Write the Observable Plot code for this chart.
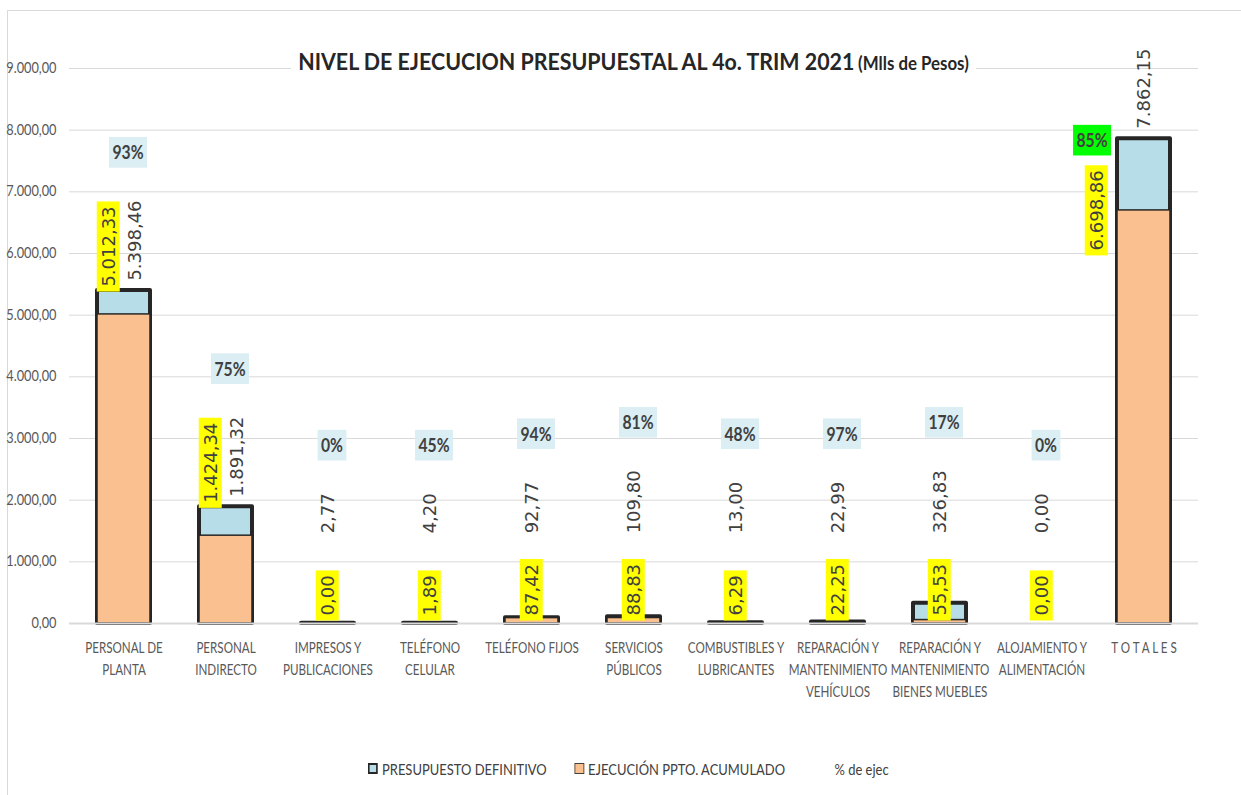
<!DOCTYPE html>
<html>
<head>
<meta charset="utf-8">
<script src="https://cdn.jsdelivr.net/npm/d3@7"></script>
<script src="https://cdn.jsdelivr.net/npm/@observablehq/plot@0.6"></script>
<style>
  html, body { margin: 0; padding: 0; background: #ffffff; }
  #wrap { position: relative; width: 1241px; height: 795px; overflow: hidden; background: #fff; }
  #frame { position: absolute; left: 7px; top: 10px; width: 1400px; height: 900px;
           border-top: 1px solid #d9d9d9; border-left: 1px solid #d9d9d9; }
  #chart { position: absolute; left: 0; top: 0; }
  #title { position: absolute; top: 47px; left: 69px; width: 1129px; text-align: center; line-height: 28px; }
  #title span.box { display: inline-block; background: #fff; padding: 0 8px; color: #262626; white-space: nowrap;
           font-family: Lato, sans-serif; transform: scaleX(0.91); }
  #title .main { font-weight: bold; font-size: 23.5px; }
  #title .sub { font-weight: bold; font-size: 18.5px; }
  #legend { position: absolute; top: 759px; left: 0; width: 1241px; display: flex; justify-content: center;
            padding-left: 16px; box-sizing: border-box;
            font-family: Lato, sans-serif; font-size: 16px; color: #404040;
            transform: scaleX(0.81); transform-origin: 628px 0; }
  .item { display: flex; align-items: center; margin: 0 17px; }
  .sw { width: 12px; height: 11px; margin-right: 5px; box-sizing: border-box; }
  .sw.pres { background: #b7dde8; border: 2.5px solid #262626; }
  .sw.ejec { background: #fac08f; border: 1px solid #404040; }
  .sw.none { background: transparent; width: 22px; }
</style>
</head>
<body>
<div id="wrap">
  <div id="frame"></div>
  <div id="chart"></div>
  <div id="title"><span class="box"><span class="main">NIVEL DE EJECUCION PRESUPUESTAL AL 4o. TRIM 2021</span> <span class="sub">(Mlls de Pesos)</span></span></div>
  <div id="legend">
    <div class="item"><div class="sw pres"></div><span>PRESUPUESTO DEFINITIVO</span></div>
    <div class="item"><div class="sw ejec"></div><span>EJECUCIÓN PPTO. ACUMULADO</span></div>
    <div class="item"><div class="sw none"></div><span>% de ejec</span></div>
  </div>
</div>
<script>
// ---------- data ----------
const categories = [
  "PERSONAL DE\nPLANTA",
  "PERSONAL\nINDIRECTO",
  "IMPRESOS Y\nPUBLICACIONES",
  "TELÉFONO\nCELULAR",
  "TELÉFONO FIJOS",
  "SERVICIOS\nPÚBLICOS",
  "COMBUSTIBLES Y\nLUBRICANTES",
  "REPARACIÓN Y\nMANTENIMIENTO\nVEHÍCULOS",
  "REPARACIÓN Y\nMANTENIMIENTO\nBIENES MUEBLES",
  "ALOJAMIENTO Y\nALIMENTACIÓN",
  "T O T A L E S"
];
const presupuesto = [5398.46, 1891.32, 2.77, 4.20, 92.77, 109.80, 13.00, 22.99, 326.83, 0.00, 7862.15];
const ejecucion   = [5012.33, 1424.34, 0.00, 1.89, 87.42, 88.83, 6.29, 22.25, 55.53, 0.00, 6698.86];
const pctEjec     = [93, 75, 0, 45, 94, 81, 48, 97, 17, 0, 85];
const yTicks      = [0, 1000, 2000, 3000, 4000, 5000, 6000, 7000, 8000, 9000];

// ---------- layout ----------
const W = 1241, H = 720, MT = 68, MB = 97, ML = 69, MR = 43;
const YMAX = 9000;
const upp = YMAX / (H - MT - MB); // data units per pixel
const SANS = "Lato, sans-serif";
const LBL = "'DejaVu Sans', Verdana, sans-serif";
const fmt = d3.formatLocale({decimal: ",", thousands: ".", grouping: [3], currency: ["$", ""]}).format(",.2f");

const ctx = document.createElement("canvas").getContext("2d");
ctx.font = "18px 'DejaVu Sans'";
const tw = s => ctx.measureText(s).width;

const rows = categories.map((cat, i) => {
  const total = i === categories.length - 1;
  const big = !total && presupuesto[i] >= 1000;
  const presLbl = fmt(presupuesto[i]);
  const ejecLbl = fmt(ejecucion[i]);
  const presAt = (big || total ? presupuesto[i] : 1300) + 10 * upp;
  const ejecAt = total ? ejecucion[i] - 40 * upp : big ? presupuesto[i] + 4 * upp : 8 * upp;
  const pctAt = total ? ejecAt + (tw(ejecLbl) + 29) * upp : presAt + (tw(presLbl) + 47) * upp;
  return {cat, pres: presupuesto[i], ejec: ejecucion[i], presLbl, ejecLbl,
          pctLbl: pctEjec[i] + "%", presAt, ejecAt, pctAt, total, big};
});
const bigRows = rows.filter(d => d.big);
const smallRows = rows.filter(d => !d.big && !d.total);
const totRows = rows.filter(d => d.total);

const lblStyle = {rotate: -90, textAnchor: "start", lineAnchor: "middle", fontSize: 18, fontFamily: LBL, fill: "#404040"};
const pctStyle = {fontSize: 18.5, fontWeight: "bold", fontFamily: SANS, fill: "#404040"};

const plot = Plot.plot({
  width: W, height: H,
  marginTop: MT, marginBottom: MB, marginLeft: ML, marginRight: MR,
  style: {background: "transparent", overflow: "visible"},
  x: {domain: categories, paddingInner: 0.48, paddingOuter: 0.24, axis: null},
  y: {domain: [0, YMAX], axis: null},
  marks: [
    Plot.ruleY(yTicks, {stroke: "#d9d9d9", strokeWidth: 1}),
    Plot.text(yTicks, {y: d => d, frameAnchor: "left", text: d => fmt(d), textAnchor: "end", dx: -13,
                       fontSize: 14.5, fontFamily: SANS, fill: "#595959", ariaDescription: "ylab"}),
    Plot.text(categories, {x: d => d, frameAnchor: "bottom", lineAnchor: "top", dy: 14, lineHeight: 1.42,
                           fontSize: 15.5, fontFamily: SANS, fill: "#595959", ariaDescription: "xlab"}),
    Plot.barY(rows.filter(d => d.pres > 0), {x: "cat", y: "pres", fill: "#b7dde8", stroke: "#262626",
                           strokeWidth: 4, strokeLinejoin: "round"}),
    Plot.barY(rows.filter(d => d.ejec > 0), {x: "cat", y: "ejec", fill: "#fac08f", stroke: "#262626",
                           strokeWidth: 1.5}),
    Plot.ruleY([0], {stroke: "#d9d9d9", strokeWidth: 2}),
    // presupuesto labels
    Plot.text(bigRows, {x: "cat", y: "presAt", text: "presLbl", dx: 11, ...lblStyle}),
    Plot.text(smallRows.concat(totRows), {x: "cat", y: "presAt", text: "presLbl", ...lblStyle}),
    // ejecución labels (yellow)
    Plot.text(bigRows, {x: "cat", y: "ejecAt", text: "ejecLbl", dx: -15, ariaDescription: "ylw", ...lblStyle}),
    Plot.text(smallRows, {x: "cat", y: "ejecAt", text: "ejecLbl", ariaDescription: "ylw", ...lblStyle}),
    Plot.text(totRows, {x: "cat", y: "ejecAt", text: "ejecLbl", dx: -47, ariaDescription: "ylw", ...lblStyle}),
    // % labels
    Plot.text(bigRows.concat(smallRows), {x: "cat", y: "pctAt", text: "pctLbl", dx: 4, ariaDescription: "pct", ...pctStyle}),
    Plot.text(totRows, {x: "cat", y: "pctAt", text: "pctLbl", dx: -52, ariaDescription: "pcttot", ...pctStyle})
  ]
});
document.getElementById("chart").appendChild(plot);

function textsOf(label) {
  return plot.querySelectorAll(`g[aria-description="${label}"] text`);
}
function addBg(label, fill, padAlong, padAcross) {
  textsOf(label).forEach(t => {
    const b = t.getBBox();
    const r = document.createElementNS("http://www.w3.org/2000/svg", "rect");
    r.setAttribute("x", b.x - padAlong);
    r.setAttribute("y", b.y - padAcross);
    r.setAttribute("width", b.width + 2 * padAlong);
    r.setAttribute("height", b.height + 2 * padAcross);
    r.setAttribute("fill", fill);
    const tr = t.getAttribute("transform");
    if (tr) r.setAttribute("transform", tr);
    t.parentNode.insertBefore(r, t);
  });
}
function narrow(label, s) {
  textsOf(label).forEach(t => {
    const tr = t.getAttribute("transform") || "";
    t.setAttribute("transform", tr + ` scale(${s},1)`);
  });
}
narrow("xlab", 0.75);
narrow("ylab", 0.88);
narrow("pct", 0.85);
narrow("pcttot", 0.85);
addBg("ylw", "#ffff00", 5, 1);
addBg("pct", "#daeef3", 4, 4);
addBg("pcttot", "#00ff00", 4, 4);
</script>
</body>
</html>
